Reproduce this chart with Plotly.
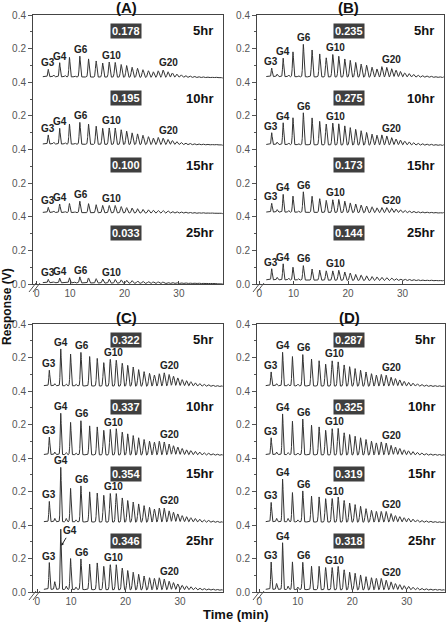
import numpy as np
import plotly.graph_objects as go

W, H = 448, 622

panel_titles = ["(A)", "(B)", "(C)", "(D)"]
time_labels = ["5hr", "10hr", "15hr", "25hr"]
box_values = [
    ["0.178", "0.195", "0.100", "0.033"],
    ["0.235", "0.275", "0.173", "0.144"],
    ["0.322", "0.337", "0.354", "0.346"],
    ["0.287", "0.325", "0.319", "0.318"],
]

# retention times (min) of G3..G33
dp = list(range(3, 34))
rt = [6.0, 8.1, 9.9, 11.8, 13.4, 14.8, 16.0, 17.2, 18.3, 19.4, 20.4, 21.4, 22.4, 23.4,
      24.4, 25.3, 26.2, 27.1, 28.0, 28.8, 29.6, 30.4, 31.2, 32.0, 32.8, 33.6, 34.4,
      35.2, 36.0, 36.8, 37.6]
rt_minor = [7.0, 9.1, 10.9]

# peak heights (V) for G3..G33, per panel, per time
A5 = [0.044,0.084,0.116,0.124,0.108,0.096,0.084,0.090,0.088,0.076,0.070,0.060,0.054,0.046,0.040,0.034,0.040,0.045,0.035,0.028,0.022,0.018,0.014,0.012,0.010,0.008,0.007,0.006,0.005,0.005,0.004]
A10 = [0.054,0.094,0.120,0.130,0.120,0.108,0.096,0.098,0.098,0.088,0.080,0.070,0.064,0.056,0.048,0.040,0.044,0.040,0.032,0.026,0.020,0.016,0.013,0.011,0.009,0.008,0.007,0.006,0.005,0.005,0.004]
A15 = [0.030,0.050,0.054,0.068,0.054,0.048,0.044,0.044,0.044,0.038,0.032,0.030,0.026,0.022,0.020,0.018,0.016,0.016,0.014,0.012,0.011,0.010,0.009,0.008,0.007,0.006,0.006,0.005,0.005,0.004,0.004]
A25 = [0.020,0.028,0.030,0.036,0.030,0.026,0.024,0.024,0.022,0.020,0.018,0.016,0.014,0.012,0.011,0.010,0.010,0.009,0.008,0.008,0.007,0.006,0.006,0.005,0.005,0.005,0.004,0.004,0.004,0.003,0.003]
B5 = [0.050,0.110,0.148,0.193,0.160,0.137,0.114,0.134,0.124,0.108,0.100,0.088,0.078,0.072,0.060,0.050,0.064,0.060,0.052,0.044,0.036,0.028,0.024,0.020,0.016,0.014,0.012,0.010,0.008,0.007,0.006]
B10 = [0.070,0.130,0.160,0.190,0.160,0.140,0.124,0.130,0.126,0.114,0.104,0.094,0.086,0.076,0.066,0.060,0.062,0.056,0.046,0.038,0.032,0.026,0.022,0.018,0.015,0.013,0.011,0.010,0.008,0.007,0.006]
B15 = [0.052,0.106,0.096,0.122,0.096,0.082,0.072,0.076,0.078,0.068,0.058,0.052,0.046,0.040,0.036,0.030,0.032,0.032,0.028,0.024,0.020,0.017,0.014,0.012,0.010,0.009,0.008,0.007,0.006,0.005,0.005]
B25 = [0.066,0.096,0.076,0.086,0.066,0.060,0.056,0.056,0.060,0.050,0.044,0.036,0.032,0.028,0.024,0.022,0.020,0.018,0.016,0.014,0.012,0.011,0.010,0.009,0.008,0.007,0.006,0.006,0.005,0.005,0.004]
C5 = [0.092,0.220,0.190,0.200,0.176,0.165,0.140,0.160,0.155,0.137,0.125,0.115,0.100,0.088,0.078,0.068,0.076,0.082,0.072,0.062,0.052,0.042,0.036,0.030,0.024,0.020,0.016,0.014,0.011,0.009,0.008]
C10 = [0.104,0.247,0.193,0.203,0.173,0.167,0.147,0.153,0.157,0.137,0.127,0.117,0.104,0.094,0.084,0.078,0.084,0.080,0.068,0.058,0.050,0.042,0.034,0.030,0.026,0.022,0.018,0.016,0.013,0.011,0.009]
C15 = [0.121,0.325,0.200,0.215,0.180,0.173,0.160,0.171,0.171,0.145,0.130,0.121,0.110,0.100,0.090,0.080,0.086,0.086,0.070,0.062,0.052,0.042,0.036,0.030,0.026,0.022,0.018,0.016,0.013,0.011,0.009]
C25 = [0.160,0.360,0.185,0.183,0.153,0.160,0.140,0.150,0.150,0.130,0.116,0.106,0.094,0.084,0.074,0.070,0.074,0.066,0.054,0.046,0.038,0.030,0.026,0.022,0.018,0.015,0.013,0.011,0.010,0.008,0.007]
D5 = [0.082,0.200,0.175,0.187,0.161,0.151,0.131,0.151,0.145,0.127,0.117,0.106,0.096,0.086,0.076,0.068,0.072,0.068,0.056,0.048,0.040,0.032,0.026,0.022,0.018,0.015,0.012,0.010,0.009,0.008,0.007]
D10 = [0.100,0.243,0.200,0.213,0.177,0.167,0.147,0.157,0.159,0.133,0.123,0.113,0.104,0.094,0.084,0.074,0.080,0.074,0.060,0.050,0.042,0.034,0.028,0.024,0.020,0.017,0.014,0.012,0.010,0.009,0.008]
D15 = [0.115,0.255,0.175,0.185,0.155,0.150,0.140,0.141,0.150,0.130,0.115,0.106,0.096,0.082,0.072,0.066,0.066,0.066,0.054,0.042,0.036,0.030,0.026,0.022,0.018,0.015,0.013,0.011,0.009,0.008,0.007]
D25 = [0.163,0.279,0.165,0.163,0.140,0.140,0.133,0.133,0.140,0.120,0.106,0.100,0.090,0.080,0.074,0.070,0.070,0.060,0.050,0.040,0.034,0.028,0.024,0.020,0.017,0.014,0.012,0.010,0.009,0.008,0.007]
heights = [[A5, A10, A15, A25], [B5, B10, B15, B25], [C5, C10, C15, C25], [D5, D10, D15, D25]]

minor = [
    [[0.010, 0.008, 0.006], [0.010, 0.008, 0.006], [0.008, 0.006, 0.005], [0.005, 0.004, 0.004]],
    [[0.015, 0.010, 0.008], [0.015, 0.010, 0.008], [0.015, 0.010, 0.008], [0.015, 0.010, 0.008]],
    [[0.012, 0.010, 0.010], [0.015, 0.012, 0.010], [0.020, 0.020, 0.012], [0.046, 0.020, 0.015]],
    [[0.012, 0.010, 0.010], [0.015, 0.012, 0.010], [0.020, 0.020, 0.012], [0.035, 0.020, 0.015]],
]
baselines = [[0.033, 0.033, 0.026, 0.008], [0.034, 0.030, 0.028, 0.025],
             [0.032, 0.021, 0.020, 0.016], [0.032, 0.021, 0.020, 0.016]]

# which peaks are labelled in each trace
labelled = [
    [[3, 4, 6, 10, 20], [3, 4, 6, 10, 20], [3, 4, 6, 10], [3, 4, 6, 10]],
    [[3, 4, 6, 10, 20], [3, 4, 6, 10, 20], [3, 4, 6, 10, 20], [3, 4, 6, 10]],
    [[3, 4, 6, 10, 20], [3, 4, 6, 10, 20], [3, 4, 6, 10, 20], [3, 6, 10, 20]],
    [[3, 4, 6, 10, 20], [3, 4, 6, 10, 20], [3, 4, 6, 10, 20], [3, 4, 6, 10, 20]],
]
label_dx = {3: -0.1, 4: 0.0, 6: 0.2, 10: 0.5, 20: 0.9}

x_ranges = [[3.2, 38.1], [3.3, 37.6], [3.0, 37.9], [2.5, 37.0]]
rt_shift = [0.0, 0.0, 0.0, -0.9]
zero_tick = [3.9, 3.7, 3.8, 2.9]
x_tick_vals = [10, 20, 30]

# panel pixel boxes: left, right, top, bottom
boxes = [(33, 223, 15, 284), (257, 444, 15, 284), (33, 223, 324, 592), (257, 445, 324, 592)]

def px(x):
    return x / W

def py(y):
    return 1 - y / H

FONT = "Arial, Liberation Sans, sans-serif"
fig = go.Figure()
annotations = []
shapes = []

def ann(**kw):
    kw.setdefault("xanchor", "center")
    kw.setdefault("yanchor", "middle")
    kw.setdefault("showarrow", False)
    annotations.append(kw)

for p in range(4):
    ax = "" if p == 0 else str(p + 1)
    L, R, T, B = boxes[p]
    xs = np.linspace(5.0 + rt_shift[p], x_ranges[p][1] - 0.05, 2600)
    for k in range(4):
        off = (3 - k) * 0.4
        b0 = baselines[p][k]
        y = off + b0 - 0.008 * (xs - xs[0]) / (xs[-1] - xs[0])
        for r, h in zip(rt, heights[p][k]):
            c = r + rt_shift[p]
            s = 0.09 + 0.0035 * (r - 6)
            y = y + h * np.exp(-0.5 * ((xs - c) / s) ** 2)
        for r, h in zip(rt_minor, minor[p][k]):
            c = r + rt_shift[p]
            y = y + h * np.exp(-0.5 * ((xs - c) / 0.1) ** 2)
        fig.add_trace(go.Scatter(x=xs, y=y, mode="lines", line=dict(color="#333333", width=1),
                                 xaxis="x" + ax, yaxis="y" + ax, showlegend=False, hoverinfo="skip"))
        # peak labels
        for g in labelled[p][k]:
            i = dp.index(g)
            top = off + b0 + heights[p][k][i]
            ann(x=rt[i] + rt_shift[p] + label_dx[g], y=top, xref="x" + ax, yref="y" + ax,
                text="<b>G%d</b>" % g, yanchor="bottom", yshift=-1,
                font=dict(family=FONT, size=10, color="#222"))
        # value box
        ann(x=px((L + R) / 2 - 2), y=off + 0.305, xref="paper", yref="y" + ax,
            text="<b>%s</b>" % box_values[p][k], bgcolor="#3f3f3f", borderpad=1,
            font=dict(family=FONT, size=11, color="white"))
        # time label
        ann(x=px(R - 8), y=off + 0.305, xref="paper", yref="y" + ax,
            text="<b>%s</b>" % time_labels[k], xanchor="right",
            font=dict(family=FONT, size=13, color="#111"))
    # arrow-labelled G4 in panel C 25hr
    if p == 2:
        i = dp.index(4)
        top = baselines[2][3] + heights[2][3][i]
        ann(x=rt[i] + 0.1, y=top - 0.1, xref="x3", yref="y3", text="<b>G4</b>",
            showarrow=True, arrowhead=2, arrowsize=0.6, arrowwidth=1, arrowcolor="#222",
            ax=9, ay=-15, font=dict(family=FONT, size=10, color="#222"))
    # panel title
    ann(x=px((L + R) / 2 - 2), y=py(T - 7), xref="paper", yref="paper",
        text="<b>%s</b>" % panel_titles[p], font=dict(family=FONT, size=15, color="#111"))
    # axis break marks
    for d in (0, 4):
        shapes.append(dict(type="line", xref="paper", yref="paper",
                           x0=px(L - 4 + d), y0=py(B + 8), x1=px(L + 3 + d), y1=py(B - 1),
                           line=dict(color="#555", width=1)))
    tv = [0, 0.2, 0.4, 0.6, 0.8, 1.0, 1.2, 1.4, 1.6]
    tt = ["0.0", "0.2", "0.4", "0.2", "0.4", "0.2", "0.4", "0.2", "0.4"]
    fig.update_layout(**{
        "xaxis" + ax: dict(domain=[px(L), px(R)], range=x_ranges[p], anchor="y" + ax, automargin=False,
                           tickvals=[zero_tick[p]] + x_tick_vals, ticktext=["0", "10", "20", "30"],
                           ticks="inside", ticklen=3, tickcolor="#444", showline=True, mirror=True,
                           linecolor="#444", linewidth=1, showgrid=False, zeroline=False,
                           tickfont=dict(family=FONT, size=10, color="#555")),
        "yaxis" + ax: dict(domain=[py(B), py(T)], range=[0, 1.6], anchor="x" + ax, automargin=False,
                           tickvals=tv, ticktext=tt, ticks="outside", ticklen=4, tickcolor="#555",
                           minor=dict(tickvals=[0.1, 0.3, 0.5, 0.7, 0.9, 1.1, 1.3, 1.5], ticks="outside",
                                      ticklen=2, tickcolor="#555"),
                           showline=True, mirror=True, linecolor="#444", linewidth=1,
                           showgrid=False, zeroline=False,
                           tickfont=dict(family=FONT, size=10, color="#555")),
    })

ann(x=px(7), y=py(307), xref="paper", yref="paper", text="<b>Response (V)</b>",
    textangle=-90, font=dict(family=FONT, size=12, color="#111"))
ann(x=px(236), y=py(614), xref="paper", yref="paper", text="<b>Time (min)</b>",
    font=dict(family=FONT, size=13, color="#111"))

fig.update_layout(width=W, height=H, margin=dict(l=0, r=0, t=0, b=0, autoexpand=False),
                  template="none", paper_bgcolor="white", plot_bgcolor="white",
                  annotations=annotations, shapes=shapes, showlegend=False)
fig.write_html("out.html", config={"displayModeBar": False},
               post_script="document.body.style.margin='0';document.body.style.padding='0';"
                           "document.body.style.overflow='hidden';")
